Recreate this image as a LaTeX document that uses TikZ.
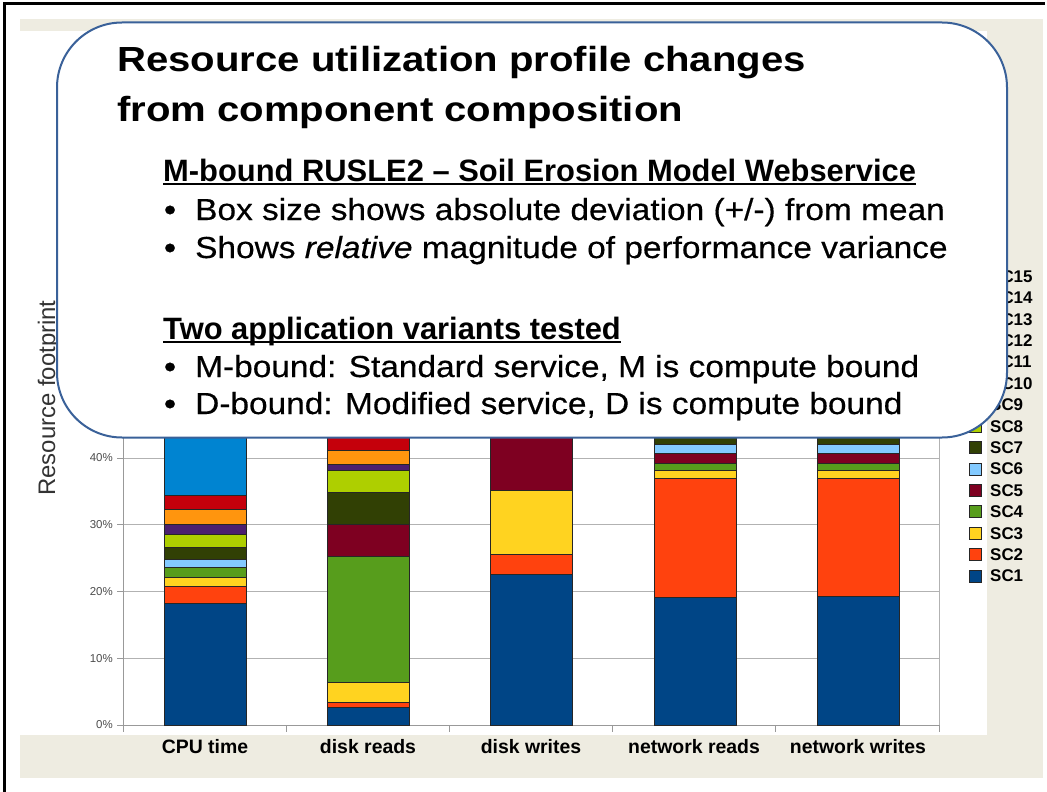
\documentclass[tikz,border=0pt]{standalone}
\usepackage{fontspec}
\usetikzlibrary{scopes}
\setmainfont{Liberation Sans}
\newfontfamily\titlefont{Liberation Sans}[FakeStretch=1.15]
\newfontfamily\bodyfont{Liberation Sans}[FakeStretch=1.1, FakeBold=0.4]

% chart palette
\definecolor{sc1}{HTML}{004586}
\definecolor{sc2}{HTML}{FF420E}
\definecolor{sc3}{HTML}{FFD320}
\definecolor{sc4}{HTML}{579D1C}
\definecolor{sc5}{HTML}{7E0021}
\definecolor{sc6}{HTML}{83CAFF}
\definecolor{sc7}{HTML}{314004}
\definecolor{sc8}{HTML}{AECF00}
\definecolor{sc9}{HTML}{4B1F6F}
\definecolor{sc10}{HTML}{FF950E}
\definecolor{sc11}{HTML}{C5000B}
\definecolor{sc12}{HTML}{0084D1}
\definecolor{sc13}{HTML}{004586}
\definecolor{sc14}{HTML}{FF420E}
\definecolor{sc15}{HTML}{FFD320}
\definecolor{slidebg}{HTML}{EEECE1}
\definecolor{calloutline}{HTML}{3A6199}

\begin{document}
\begin{tikzpicture}
[x = 1bp, y = -1bp,
 seg/.style = {draw = black!85, line width = 0.8bp},
 grid/.style = {draw = black!30, line width = 1bp},
 axis/.style = {draw = black!40, line width = 1bp},
 tick/.style = {font = \fontsize{11.5}{12}\selectfont, text = black!70, anchor = east, inner sep = 0pt},
 cat/.style = {font = \bfseries\fontsize{19.5}{20}\selectfont, anchor = base, inner sep = 0pt},
 key/.style = {draw = black!85, line width = 0.8bp, minimum size = 12bp, inner sep = 0pt},
 keytext/.style = {font = \bfseries\fontsize{17}{18}\selectfont, anchor = west, inner sep = 0pt},
 callout/.style = {draw = calloutline, line width = 2bp, fill = white, rounded corners = 65bp},
 txt/.style = {anchor = base west, inner sep = 0pt},
 titletxt/.style = {txt, font = \titlefont\bfseries\fontsize{35}{40}\selectfont},
 headtxt/.style = {txt, font = \bfseries\fontsize{31}{36}\selectfont},
 bodytxt/.style = {txt, font = \bodyfont\fontsize{30.5}{36}\selectfont}
 ]
\useasboundingbox (0,0) rectangle (1047,792);
% slide and plot background
\fill [white] (0,0) rectangle (1047,792);
\fill [slidebg] (20,19) rectangle (1043,778);
\fill [white] (20,31) rectangle (987,735);
\draw [line width = 3bp] (4.5,792) -- (4.5,4) -- (1045,4);

% bars, in percent
{ [shift = {(0,725)}, y = 6.675bp]
\foreach \v in {10,20,30,40}
  \draw [grid] (123,\v) -- (939,\v);
\draw [axis] (123,46) -- (123,0) -- (939,0);
\draw [grid] (939,0) -- (939,46);
\foreach \v in {0,10,20,30,40} {
  \draw [axis] (117,\v) -- (123,\v);
  \node [tick] (ytick\v) at (113,\v) {\v\%};
}
\foreach \i in {0,...,5}
  \draw [axis] (123+163.2*\i,0) -- (123+163.2*\i,-1.05);

% CPU time
\foreach \c/\lo/\hi in {sc1/0/18.2, sc2/18.2/20.8, sc3/20.8/22.1, sc4/22.1/23.6, sc6/23.6/24.8,
                       sc7/24.8/26.6, sc8/26.6/28.6, sc9/28.6/30.0, sc10/30.0/32.3, sc11/32.3/34.4, sc12/34.4/46}
  \filldraw [seg, fill = \c] (164,\lo) rectangle (246,\hi);
% disk reads
\foreach \c/\lo/\hi in {sc1/0/2.7, sc2/2.7/3.4, sc3/3.4/6.4, sc4/6.4/25.3, sc5/25.3/30.0,
                       sc7/30.0/34.9, sc8/34.9/38.2, sc9/38.2/39.1, sc10/39.1/41.2, sc11/41.2/46}
  \filldraw [seg, fill = \c] (327,\lo) rectangle (409,\hi);
% disk writes
\foreach \c/\lo/\hi in {sc1/0/22.6, sc2/22.6/25.6, sc3/25.6/35.2, sc5/35.2/46}
  \filldraw [seg, fill = \c] (490,\lo) rectangle (572,\hi);
% network reads
\foreach \c/\lo/\hi in {sc1/0/19.1, sc2/19.1/36.9, sc3/36.9/38.1, sc4/38.1/39.2, sc5/39.2/40.7,
                       sc6/40.7/42.1, sc7/42.1/46}
  \filldraw [seg, fill = \c] (654,\lo) rectangle (736,\hi);
% network writes
\foreach \c/\lo/\hi in {sc1/0/19.3, sc2/19.3/37.0, sc3/37.0/38.1, sc4/38.1/39.2, sc5/39.2/40.7,
                       sc6/40.7/42.1, sc7/42.1/46}
  \filldraw [seg, fill = \c] (817,\lo) rectangle (899,\hi);
}

\node [cat] (cpu) at (205,753) {CPU time};
\node [cat] (dread) at (368,753) {disk reads};
\node [cat] (dwrite) at (531,753) {disk writes};
\node [cat] (nread) at (694,753) {network reads};
\node [cat] (nwrite) at (858,753) {network writes};
\node [rotate = 90, anchor = base, inner sep = 0pt, text = black!80,
       font = \fontsize{24}{26}\selectfont] (ylab) at (55,398) {Resource footprint};

% legend
\foreach \n in {1,...,15} {
  \node [key, fill = sc\n] (key\n) at (975,576-21.4*\n+21.4) {};
  \node [keytext] (keylab\n) at (990,576-21.4*\n+21.4) {SC\n};
}

% callout
\draw [callout] (57,22.5) rectangle (1007,437.5);
\node [titletxt] (title1) at (117,72) {Resource utilization profile changes};
\node [titletxt] (title2) at (117,121) {from component composition};

\node [headtxt] (head1) at (163,181) {M-bound RUSLE2 – Soil Erosion Model Webservice};
\draw [line width = 2bp] ([yshift = -3bp]head1.base west) -- ([yshift = -3bp]head1.base east);
\node [bodytxt] (dot1) at (164,220) {\bfseries\textbullet};
\node [bodytxt] (item1) at (195,220) {Box size shows absolute deviation (+/-) from mean};
\node [bodytxt] (dot2) at (164,258) {\bfseries\textbullet};
\node [bodytxt] (item2) at (195,258) {Shows \textit{relative} magnitude of performance variance};

\node [headtxt] (head2) at (163,339) {Two application variants tested};
\draw [line width = 2bp] ([yshift = -3bp]head2.base west) -- ([yshift = -3bp]head2.base east);
\node [bodytxt] (dot3) at (164,377) {\bfseries\textbullet};
\node [bodytxt] (item3) at (195,377) {M-bound: Standard service, M is compute bound};
\node [bodytxt] (dot4) at (164,414) {\bfseries\textbullet};
\node [bodytxt] (item4) at (195,414) {D-bound: Modified service, D is compute bound};
\end{tikzpicture}
\end{document}
